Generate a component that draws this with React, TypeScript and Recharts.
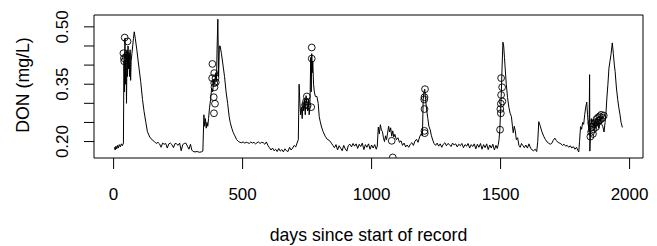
import React from "react";
import {
  ComposedChart,
  Line,
  Scatter,
  XAxis,
  YAxis,
  ReferenceArea,
} from "recharts";

// continuous record (days since start, DON mg/L)
const days = [
  3, 6, 9, 12, 15, 18, 22, 26, 30, 34, 38,
  40, 42, 44, 46, 48, 50, 52, 54, 56, 58, 60, 62, 64, 66, 68, 71, 74, 77, 80, 84,
  90, 97, 105, 112, 118, 125, 131, 140, 150, 158, 165, 172, 178, 184, 190, 196, 202, 208, 214, 220, 226, 232, 238, 244, 250, 256, 262, 268, 274, 280, 286, 292, 298, 303, 308, 316, 324, 332, 340, 346,
  350, 353, 356, 359, 362, 365, 368, 372, 376, 380, 384, 388, 392, 396, 399, 401, 404, 407, 410, 413, 418, 424, 430, 436, 442, 448, 452, 458, 464, 470, 477, 484, 490, 496, 502, 508, 514, 520, 526, 532, 538, 544, 550, 556, 562, 568, 574, 580, 586, 592, 598,
  604, 610, 616, 622, 628, 634, 640, 646, 652, 658, 664, 670, 676, 682, 688, 694, 700, 706, 711, 716,
  719, 722, 725, 728, 731, 734, 737, 740, 743, 746, 749, 752, 755, 758, 761, 764, 766, 768, 770, 772, 775, 778, 782, 788, 793, 797, 801, 806, 812, 820, 828, 836,
  844, 850, 856, 862, 868, 874, 880, 886, 892, 898, 904, 910, 916, 922, 928, 934, 940, 946, 952, 958, 964, 970, 976, 982, 988, 994, 1000, 1006, 1012, 1018, 1022,
  1026, 1030, 1034, 1038, 1042, 1046, 1050, 1054, 1058, 1062, 1066, 1070, 1074, 1078, 1082, 1086, 1090, 1096, 1102, 1108, 1114, 1120, 1126, 1132, 1138, 1144, 1150, 1156, 1162, 1168, 1174, 1180, 1186, 1192, 1197,
  1200, 1203, 1206, 1209, 1213, 1218, 1222, 1227, 1232, 1237, 1242, 1248, 1254, 1260, 1266, 1272, 1278, 1284, 1290, 1296, 1302, 1308, 1314, 1320, 1326, 1332, 1338, 1344, 1350, 1356, 1362, 1368, 1374, 1380, 1386, 1392, 1398, 1404, 1410, 1416, 1422, 1428, 1434, 1440, 1446, 1452, 1458, 1464, 1470, 1476, 1482, 1487, 1491,
  1494, 1497, 1500, 1503, 1506, 1509, 1512, 1515, 1518, 1522, 1527, 1532, 1537, 1542, 1546, 1549, 1553, 1557, 1561, 1566, 1571, 1576, 1581, 1586, 1592, 1598, 1604, 1610, 1616, 1622, 1628, 1634, 1640, 1644, 1648, 1653, 1660, 1667, 1674, 1680, 1686, 1692, 1698, 1704, 1710, 1716, 1722, 1728, 1734, 1740, 1746, 1752, 1758, 1764, 1770, 1776, 1782, 1788, 1794, 1799, 1803,
  1806, 1810, 1814, 1818, 1822, 1826, 1830, 1834, 1837, 1840, 1843, 1845, 1846, 1849, 1852, 1856, 1860, 1864, 1868, 1872, 1876, 1880, 1884, 1888, 1892, 1896, 1901, 1905, 1909, 1912, 1916, 1920, 1924, 1928, 1933, 1937, 1941, 1944, 1949, 1954, 1958, 1963, 1967, 1972,
];

const don = [
  0.185, 0.178, 0.188, 0.181, 0.19, 0.183, 0.192, 0.186, 0.194, 0.189, 0.196,
  0.41, 0.33, 0.47, 0.35, 0.43, 0.3, 0.44, 0.37, 0.45, 0.39, 0.43, 0.37, 0.44, 0.36, 0.41, 0.43, 0.45, 0.47, 0.487, 0.47,
  0.44, 0.4, 0.357, 0.31, 0.279, 0.25, 0.226, 0.212, 0.204, 0.2, 0.195, 0.198, 0.194, 0.185, 0.196, 0.193, 0.195, 0.183, 0.194, 0.196, 0.192, 0.184, 0.195, 0.194, 0.19, 0.196, 0.176, 0.192, 0.195, 0.196, 0.188, 0.18, 0.193, 0.178, 0.174, 0.173, 0.174, 0.172, 0.173, 0.175,
  0.27, 0.24, 0.26, 0.235, 0.25, 0.24, 0.26, 0.29, 0.31, 0.34, 0.33, 0.36, 0.35, 0.38, 0.36, 0.44, 0.52, 0.37, 0.45, 0.45, 0.43, 0.4, 0.37, 0.33, 0.3, 0.265, 0.25, 0.235, 0.223, 0.215, 0.205, 0.2, 0.198, 0.197, 0.199, 0.196, 0.198, 0.197, 0.195, 0.199, 0.196, 0.198, 0.194, 0.197, 0.199, 0.195, 0.198, 0.197, 0.193, 0.199, 0.19,
  0.184, 0.178, 0.183, 0.176, 0.18, 0.174, 0.182, 0.175, 0.179, 0.173, 0.181, 0.176, 0.174, 0.185, 0.178, 0.183, 0.19, 0.186, 0.196, 0.205,
  0.35, 0.3, 0.27, 0.29, 0.26, 0.3, 0.28, 0.31, 0.27, 0.32, 0.3, 0.28, 0.31, 0.27, 0.29, 0.42, 0.33, 0.43, 0.38, 0.41, 0.35, 0.33, 0.318, 0.318, 0.3, 0.265, 0.252, 0.238, 0.226, 0.214, 0.206, 0.203,
  0.196, 0.19, 0.184, 0.192, 0.178, 0.189, 0.183, 0.176, 0.19, 0.181, 0.175, 0.19, 0.193, 0.186, 0.195, 0.188, 0.194, 0.182, 0.193, 0.187, 0.196, 0.179, 0.192, 0.185, 0.194, 0.18, 0.191, 0.183, 0.192, 0.18, 0.188,
  0.238, 0.22, 0.244, 0.23, 0.226, 0.21, 0.2, 0.215, 0.205, 0.222, 0.24, 0.225, 0.236, 0.214, 0.228, 0.212, 0.219, 0.205, 0.21, 0.198, 0.202, 0.19, 0.196, 0.186, 0.191, 0.185, 0.193, 0.197, 0.19, 0.201, 0.206, 0.198, 0.212, 0.22, 0.215,
  0.31, 0.33, 0.337, 0.31, 0.285, 0.26, 0.24, 0.231, 0.215, 0.204, 0.195, 0.19, 0.196, 0.188, 0.194, 0.185, 0.193, 0.197, 0.189, 0.195, 0.192, 0.187, 0.196, 0.191, 0.194, 0.186, 0.193, 0.189, 0.195, 0.184, 0.192, 0.188, 0.195, 0.183, 0.192, 0.187, 0.194, 0.181, 0.193, 0.185, 0.195, 0.18, 0.192, 0.184, 0.194, 0.179, 0.191, 0.183, 0.193, 0.178, 0.19, 0.182, 0.192,
  0.205, 0.231, 0.28, 0.33, 0.4, 0.46, 0.45, 0.42, 0.39, 0.35, 0.315, 0.29, 0.274, 0.265, 0.24, 0.223, 0.24, 0.228, 0.205, 0.21, 0.19, 0.185, 0.195, 0.19, 0.184, 0.191, 0.183, 0.194, 0.183, 0.178, 0.176, 0.18, 0.174, 0.2, 0.252, 0.242, 0.226, 0.214, 0.205, 0.199, 0.196, 0.193, 0.195, 0.203, 0.209, 0.203, 0.198, 0.196, 0.194, 0.19, 0.193, 0.188, 0.19, 0.185, 0.189, 0.183, 0.187, 0.18, 0.185, 0.178, 0.173,
  0.2, 0.239, 0.232, 0.25, 0.245, 0.27, 0.29, 0.303, 0.27, 0.245, 0.225, 0.375, 0.175, 0.23, 0.26, 0.245, 0.25, 0.23, 0.255, 0.24, 0.262, 0.235, 0.25, 0.262, 0.245, 0.24, 0.225, 0.25, 0.28, 0.314, 0.35, 0.392, 0.41, 0.428, 0.458, 0.43, 0.4, 0.383, 0.34, 0.31, 0.29, 0.27, 0.25, 0.237,
];

// grab samples (open circles)
const sampleDays = [
  43, 54, 38, 40, 47, 52, 41,
  383, 390, 382, 395, 390, 396, 391, 388, 393, 389,
  768, 768, 749, 742, 752, 766, 746,
  1078, 1082,
  1207, 1205, 1204, 1205, 1205, 1206,
  1502, 1506, 1502, 1507, 1501, 1499, 1501, 1498,
  1848, 1851, 1855, 1860, 1866, 1872, 1878, 1884, 1890, 1862, 1870, 1876, 1882, 1852, 1858, 1888, 1895, 1900,
];
const sampleDon = [
  0.472, 0.462, 0.431, 0.418, 0.42, 0.425, 0.41,
  0.403, 0.379, 0.366, 0.366, 0.353, 0.355, 0.342, 0.316, 0.299, 0.274,
  0.446, 0.417, 0.318, 0.296, 0.294, 0.29, 0.305,
  0.202, 0.1585,
  0.337, 0.316, 0.31, 0.285, 0.228, 0.222,
  0.366, 0.342, 0.322, 0.305, 0.299, 0.285, 0.274, 0.231,
  0.213, 0.225, 0.238, 0.232, 0.25, 0.259, 0.263, 0.266, 0.27, 0.245, 0.238, 0.25, 0.255, 0.248, 0.22, 0.258, 0.262, 0.268,
];

const xTicks = [0, 500, 1000, 1500, 2000];
const yTicks = [0.2, 0.25, 0.3, 0.35, 0.4, 0.45, 0.5];
const yLabelled = [0.2, 0.35, 0.5];

const FONT = "'Liberation Sans', Arial, sans-serif";

const XTick = (props: any) => (
  <text x={props.x} y={200} textAnchor="middle" fontFamily={FONT} fontSize={17} fill="#000">
    {props.payload.value}
  </text>
);

const YTick = (props: any) => {
  const v = props.payload.value;
  if (!yLabelled.some((t) => Math.abs(t - v) < 1e-6)) return <g />;
  return (
    <text
      transform={`translate(68, ${props.y}) rotate(-90)`}
      textAnchor="middle"
      fontFamily={FONT}
      fontSize={17}
      fill="#000"
    >
      {v.toFixed(2)}
    </text>
  );
};

const App = () => {
  const series = days.map((d, i) => ({ day: d, don: don[i] }));
  const samples = sampleDays.map((d, i) => ({ day: d, don: sampleDon[i] }));

  return (
    <div style={{ position: "absolute", left: 0, top: 0, width: 657, height: 246, background: "#fff" }}>
      <ComposedChart width={657} height={246} margin={{ top: 15, right: 14, bottom: 0, left: 0 }}>
        <XAxis
          type="number"
          dataKey="day"
          domain={[-76, 2052]}
          allowDataOverflow
          ticks={xTicks}
          interval={0}
          tickSize={11}
          axisLine={false}
          stroke="#000"
          tick={<XTick />}
          height={88}
        />
        <YAxis
          type="number"
          dataKey="don"
          domain={[0.157, 0.531]}
          allowDataOverflow
          ticks={yTicks}
          interval={0}
          tickSize={10}
          axisLine={false}
          stroke="#000"
          tick={<YTick />}
          width={94}
        />
        <ReferenceArea
          x1={-76}
          x2={2052}
          y1={0.157}
          y2={0.531}
          fill="none"
          stroke="#000"
          strokeWidth={1}
          ifOverflow="visible"
        />
        <Line
          data={series}
          dataKey="don"
          type="linear"
          stroke="#000"
          strokeWidth={1}
          dot={false}
          isAnimationActive={false}
        />
        <Scatter
          data={samples}
          dataKey="don"
          isAnimationActive={false}
          shape={(p: any) => (
            <circle
              cx={p.cx}
              cy={p.cy}
              r={3.4}
              fill="none"
              stroke="#000"
              strokeWidth={0.9}
              clipPath="url(#plotBox)"
            />
          )}
        />
      </ComposedChart>
      <svg
        width={657}
        height={246}
        style={{ position: "absolute", left: 0, top: 0, pointerEvents: "none" }}
      >
        <defs>
          <clipPath id="plotBox" clipPathUnits="userSpaceOnUse">
            <rect x={94} y={15} width={549} height={143} />
          </clipPath>
        </defs>
        <text x={368.5} y={241} textAnchor="middle" fontFamily={FONT} fontSize={17.7} fill="#000">
          days since start of record
        </text>
        <text
          transform="translate(28.5, 85) rotate(-90)"
          textAnchor="middle"
          fontFamily={FONT}
          fontSize={17.7}
          fill="#000"
        >
          DON (mg/L)
        </text>
      </svg>
    </div>
  );
};

export default App;
